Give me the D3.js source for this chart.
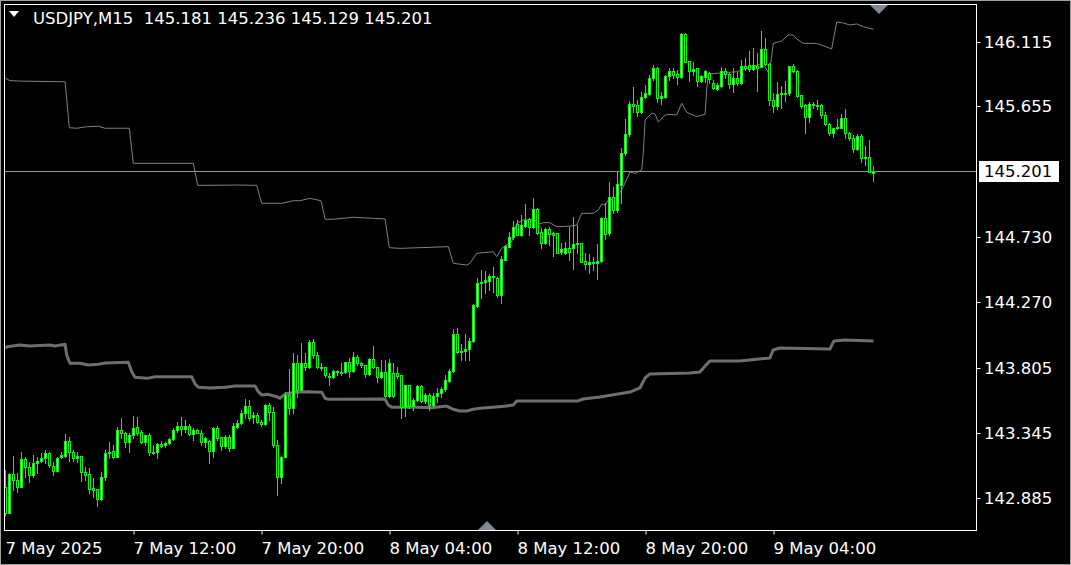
<!DOCTYPE html>
<html><head><meta charset="utf-8">
<script src="https://cdn.jsdelivr.net/npm/d3@7/dist/d3.min.js"></script>
<style>html,body{margin:0;padding:0;background:#000;overflow:hidden}svg{display:block}</style>
</head><body>
<svg id="chart" width="1071" height="565"></svg>
<script>
// ---------- DATA ----------
const symbolLabel = "USDJPY,M15";
const headerOHLC = [145.181, 145.236, 145.129, 145.201];
const currentPrice = 145.201;

const opens = [142.964,142.776,143.054,143.011,142.964,143.158,143.101,143.047,143.129,143.146,143.165,143.200,143.111,143.078,143.172,143.181,143.288,143.210,143.165,143.181,143.066,143.054,142.952,142.945,142.875,143.030,143.200,143.219,143.177,143.365,143.342,143.283,143.328,143.384,143.349,143.283,143.328,143.212,143.212,143.266,143.259,143.271,143.299,143.363,143.396,143.370,143.396,143.335,143.365,143.346,143.278,143.288,143.219,143.377,143.313,143.252,143.318,143.236,143.386,143.413,143.483,143.535,143.455,143.472,143.424,143.406,143.542,143.495,143.259,143.035,143.177,143.613,143.519,143.837,143.649,143.837,143.814,143.991,143.896,143.814,143.809,143.748,143.740,143.786,143.774,143.774,143.844,143.786,143.880,143.837,143.826,143.760,143.866,143.814,143.743,143.778,143.606,143.767,143.767,143.755,143.531,143.684,143.535,143.578,143.677,143.573,143.611,143.542,143.606,143.625,143.653,143.715,143.786,144.045,143.920,143.927,143.936,143.995,144.243,144.403,144.415,144.422,144.455,144.439,144.321,144.568,144.663,144.729,144.821,144.746,144.811,144.856,144.800,144.930,144.764,144.687,144.786,144.757,144.757,144.623,144.621,144.656,144.651,144.680,144.687,144.561,144.538,144.552,144.545,144.564,144.864,144.757,145.012,144.923,145.099,145.324,145.460,145.673,145.663,145.618,145.720,145.743,145.854,145.925,145.713,145.725,145.873,145.906,145.883,145.866,146.166,145.977,145.909,145.925,145.838,145.866,145.895,145.824,145.779,145.803,145.906,145.883,145.812,145.854,145.824,145.944,145.949,145.918,145.944,145.937,146.062,145.956,145.701,145.661,145.741,145.748,145.748,145.942,145.906,145.736,145.666,145.578,145.673,145.666,145.666,145.595,145.534,145.470,145.500,145.505,145.571,145.465,145.430,145.352,145.446,145.288,145.295,145.181];
const highs = [143.082,143.060,143.181,143.059,143.212,143.177,143.141,143.188,143.177,143.200,143.224,143.212,143.141,143.177,143.212,143.337,143.318,143.224,143.212,143.181,143.106,143.094,143.023,142.945,143.071,143.224,143.283,143.259,143.389,143.448,143.354,143.342,143.464,143.455,143.365,143.330,143.342,143.259,143.271,143.290,143.283,143.306,143.377,143.424,143.460,143.436,143.405,143.377,143.375,143.365,143.318,143.295,143.389,143.394,143.318,143.330,143.330,143.413,143.436,143.507,143.585,143.578,143.495,143.483,143.436,143.547,143.554,143.531,143.295,143.182,143.637,143.800,143.908,143.896,143.979,143.908,144.002,144.007,143.920,143.842,143.814,143.767,143.790,143.790,143.837,143.849,143.873,143.915,143.896,143.849,143.826,143.873,143.960,143.814,143.861,143.861,143.865,143.840,143.814,143.755,143.684,143.684,143.590,143.684,143.684,143.625,143.630,143.625,143.660,143.672,143.755,143.795,144.078,144.085,143.974,144.045,144.014,144.255,144.439,144.498,144.493,144.467,144.521,144.451,144.597,144.675,144.769,144.847,144.852,144.887,144.963,144.868,145.005,144.934,144.793,144.793,144.805,144.769,144.762,144.687,144.698,144.800,144.871,144.816,144.687,144.616,144.609,144.587,144.682,144.875,144.970,145.123,145.088,145.194,145.359,145.564,145.696,145.791,145.701,145.760,145.807,145.878,145.949,145.937,145.760,145.878,145.930,145.930,145.914,146.173,146.173,145.977,145.972,145.930,145.878,145.914,145.902,145.842,145.819,145.937,145.930,145.890,145.925,145.902,145.984,145.996,146.048,146.067,146.031,146.189,146.137,145.961,145.748,145.831,145.803,145.836,145.942,145.954,145.914,145.736,145.670,145.685,145.685,145.701,145.670,145.614,145.541,145.505,145.564,145.600,145.637,145.477,145.453,145.458,145.458,145.378,145.418,145.236];
const lows = [142.764,142.776,142.941,142.929,142.964,143.035,143.000,143.035,143.063,143.141,143.129,143.106,143.047,143.075,143.165,143.177,143.148,143.148,143.141,143.007,143.011,142.917,142.894,142.830,142.870,143.011,143.165,143.170,143.177,143.306,143.247,143.212,143.306,143.330,143.271,143.259,143.188,143.196,143.165,143.247,143.247,143.266,143.295,143.354,143.328,143.354,143.328,143.295,143.342,143.259,143.247,143.129,143.177,143.295,143.224,143.236,143.219,143.236,143.377,143.408,143.448,143.436,143.413,143.413,143.394,143.400,143.436,143.248,142.906,142.988,143.177,143.480,143.483,143.601,143.649,143.790,143.802,143.873,143.802,143.790,143.743,143.684,143.731,143.755,143.755,143.767,143.743,143.778,143.826,143.814,143.743,143.755,143.802,143.708,143.731,143.601,143.600,143.601,143.731,143.448,143.465,143.519,143.507,143.573,143.566,143.554,143.507,143.535,143.566,143.597,143.644,143.708,143.778,143.908,143.861,143.861,143.861,143.991,144.234,144.302,144.333,144.356,144.345,144.309,144.262,144.568,144.658,144.715,144.746,144.739,144.805,144.746,144.793,144.753,144.651,144.682,144.675,144.597,144.616,144.611,144.611,144.569,144.503,144.616,144.552,144.503,144.474,144.498,144.432,144.557,144.717,144.746,144.904,144.911,144.970,145.312,145.446,145.618,145.588,145.611,145.713,145.736,145.843,145.684,145.673,145.718,145.843,145.854,145.812,145.859,145.968,145.838,145.878,145.800,145.826,145.826,145.819,145.779,145.772,145.796,145.854,145.784,145.760,145.807,145.814,145.914,145.906,145.914,145.765,145.937,145.949,145.666,145.618,145.637,145.642,145.694,145.736,145.902,145.725,145.642,145.465,145.548,145.642,145.637,145.576,145.524,145.453,145.441,145.494,145.500,145.430,145.418,145.335,145.347,145.260,145.241,145.189,145.129];
const closes = [142.776,143.054,143.011,142.964,143.158,143.101,143.047,143.129,143.146,143.170,143.200,143.118,143.075,143.170,143.188,143.288,143.212,143.165,143.181,143.066,143.047,142.945,142.938,142.875,143.035,143.200,143.210,143.172,143.365,143.342,143.283,143.330,143.377,143.346,143.283,143.330,143.212,143.205,143.264,143.254,143.271,143.299,143.365,143.396,143.370,143.396,143.335,143.365,143.346,143.278,143.311,143.219,143.377,143.306,143.254,143.318,143.236,143.394,143.413,143.483,143.535,143.448,143.472,143.424,143.406,143.542,143.495,143.259,143.035,143.177,143.613,143.519,143.837,143.649,143.837,143.814,143.991,143.896,143.814,143.807,143.755,143.740,143.786,143.774,143.770,143.844,143.786,143.880,143.837,143.826,143.760,143.866,143.814,143.743,143.778,143.606,143.837,143.606,143.750,143.531,143.684,143.535,143.578,143.677,143.573,143.611,143.542,143.606,143.630,143.656,143.719,143.786,144.045,143.920,143.927,143.938,143.995,144.250,144.403,144.415,144.427,144.455,144.450,144.321,144.573,144.668,144.729,144.805,144.746,144.816,144.852,144.800,144.927,144.757,144.687,144.786,144.753,144.748,144.621,144.644,144.651,144.623,144.680,144.687,144.557,144.538,144.552,144.545,144.561,144.864,144.753,145.012,144.923,145.106,145.324,145.458,145.673,145.661,145.618,145.720,145.748,145.854,145.925,145.713,145.729,145.873,145.906,145.878,145.866,146.166,145.972,145.909,145.921,145.838,145.871,145.906,145.847,145.784,145.807,145.906,145.883,145.812,145.854,145.819,145.944,145.930,145.918,145.949,145.925,146.062,145.956,145.701,145.661,145.741,145.748,145.753,145.942,145.909,145.729,145.661,145.583,145.673,145.666,145.659,145.595,145.529,145.465,145.500,145.512,145.571,145.465,145.430,145.352,145.446,145.288,145.298,145.194,145.201];

// indicator lines: [bar index, price] vertices
const upperLine = [[0,145.855],[1.1,145.838],[3.6,145.835],[14.9,145.830],[15.95,145.505],[17.8,145.501],[20.3,145.512],[23.2,145.515],[24.9,145.501],[30.95,145.501],[31.95,145.253],[46.95,145.253],[48.05,145.097],[58.6,145.099],[62.8,145.097],[64.05,144.970],[69.05,144.970],[71.95,144.988],[73.6,144.988],[76.1,145.005],[78.9,144.988],[79.9,144.857],[81.9,144.857],[86.9,144.871],[94.9,144.859],[95.95,144.656],[98.6,144.651],[110.7,144.663],[111.95,144.545],[115.3,144.533],[116.1,144.545],[117.8,144.616],[121.95,144.627],[122.8,144.592],[124.05,144.651],[124.9,144.668],[126.55,144.698],[127.8,144.828],[129.45,144.852],[132.4,144.852],[133.2,144.821],[134.45,144.833],[136.1,144.833],[137.8,144.804],[141.55,144.809],[142.8,144.816],[144.05,144.899],[146.95,144.899],[148.2,144.923],[149.05,144.965],[149.9,144.958],[150.7,144.993],[152.8,145.005],[154.45,145.087],[156.1,145.191],[157.4,145.182],[159.05,145.206],[159.45,145.324],[159.9,145.559],[161.55,145.607],[162.4,145.602],[163.2,145.545],[164.45,145.583],[165.3,145.600],[167.8,145.595],[169.05,145.678],[170.3,145.614],[172.8,145.583],[174.9,145.600],[175.3,145.772],[175.7,145.885],[177.8,145.890],[182.8,145.901],[185.3,145.925],[188.6,145.954],[189.9,145.937],[190.95,145.883],[191.95,146.102],[194.05,146.119],[195.7,146.161],[196.95,146.161],[197.8,146.133],[199.45,146.102],[202.8,146.102],[204.45,146.085],[206.55,146.062],[207.8,146.253],[209.45,146.246],[211.1,146.232],[212.8,146.239],[214.45,146.220],[217,146.201]];
const lowerLine = [[0,143.944],[0.4,143.955],[3.6,143.967],[6.1,143.960],[11.1,143.967],[12.4,143.960],[14.9,143.972],[15.3,143.896],[16.1,143.838],[18.6,143.838],[20.7,143.826],[23.2,143.831],[24.9,143.840],[30.7,143.845],[31.55,143.778],[32.4,143.739],[35.3,143.731],[37.4,143.743],[46.55,143.743],[47.4,143.691],[48.2,143.668],[51.1,143.663],[54.9,143.668],[57.4,143.677],[62.4,143.677],[63.2,143.637],[64.05,143.613],[65.7,143.618],[67.8,143.601],[68.6,143.590],[69.9,143.620],[72.4,143.632],[75.7,143.637],[79.05,143.632],[79.9,143.590],[80.7,143.583],[84.05,143.583],[94.05,143.585],[94.9,143.582],[95.7,143.543],[96.55,143.526],[102.4,143.526],[106.55,143.523],[110.3,143.535],[111.95,143.512],[113.6,143.500],[115.3,143.500],[116.95,143.512],[118.6,143.519],[121.95,143.526],[125.3,143.535],[126.95,143.543],[127.8,143.571],[136.1,143.571],[143.1,143.571],[144.4,143.585],[148.6,143.599],[151.6,143.613],[156.1,143.634],[158.6,143.663],[159.9,143.734],[161.1,143.762],[171.1,143.769],[173.6,143.776],[174.9,143.818],[176.1,143.854],[183.6,143.854],[191.1,143.875],[191.9,143.932],[193.6,143.946],[206.1,143.939],[207.1,143.995],[209.9,144.002],[217,143.995]];

const priceTicks = [146.115, 145.655, 144.730, 144.270, 143.805, 143.345, 142.885];
const timeTickBars = [0, 32, 64, 96, 128, 160, 192];
const timeTickLabels = ["7 May 2025", "7 May 12:00", "7 May 20:00", "8 May 04:00", "8 May 12:00", "8 May 20:00", "9 May 04:00"];

// ---------- LAYOUT ----------
const W = 1071, H = 565;
const frame = {x0: 4.5, y0: 4.5, x1: 976.5, y1: 530.5};
const FONT = "'DejaVu Sans', Verdana, sans-serif";
const LIME = "#00ff00";

const svg = d3.select("#chart");
svg.append("rect").attr("width", W).attr("height", H).attr("fill", "#000");

const x = d3.scaleLinear().domain([0, 217]).range([5.5, 873.5]);
const y = d3.scaleLinear().domain([142.885, 146.115]).range([497.9, 41.5]);

// outer window border
svg.append("rect").attr("x", 0.5).attr("y", 0.5).attr("width", W - 1).attr("height", H - 1)
  .attr("fill", "none").attr("stroke", "#a0a0a0");

// clip
svg.append("defs").append("clipPath").attr("id", "plotclip")
  .append("rect").attr("x", frame.x0 + 0.5).attr("y", frame.y0 + 0.5)
  .attr("width", frame.x1 - frame.x0 - 1).attr("height", frame.y1 - frame.y0 - 1);

const plot = svg.append("g").attr("clip-path", "url(#plotclip)");

// current price line
plot.append("line").attr("x1", frame.x0).attr("x2", frame.x1)
  .attr("y1", Math.round(y(currentPrice)) + 0.5).attr("y2", Math.round(y(currentPrice)) + 0.5)
  .attr("stroke", "#8a93a0").attr("stroke-width", 1);

// indicator lines
const lineGen = d3.line().x(d => x(d[0])).y(d => y(d[1]));
plot.append("path").datum(lowerLine).attr("d", lineGen)
  .attr("fill", "none").attr("stroke", "#6e6e6e").attr("stroke-width", 3).attr("stroke-linejoin", "round");
plot.append("path").datum(upperLine).attr("d", lineGen)
  .attr("fill", "none").attr("stroke", "#808080").attr("stroke-width", 1);

// candles
const bars = d3.range(opens.length).map(i => ({i, o: opens[i], h: highs[i], l: lows[i], c: closes[i]}));
const cg = plot.append("g");
bars.forEach(b => {
  const cx = x(b.i);
  const g = cg.append("g");
  const yh = Math.round(y(b.h)), yl = Math.round(y(b.l));
  g.append("line").attr("x1", cx).attr("x2", cx).attr("y1", yh).attr("y2", yl + 1)
    .attr("stroke", LIME).attr("stroke-width", 1);
  const top = Math.round(y(Math.max(b.o, b.c)));
  let bot = Math.round(y(Math.min(b.o, b.c)));
  if (bot < top + 1) bot = top + 1;
  g.append("rect").attr("x", cx - 1.5).attr("y", top).attr("width", 3).attr("height", bot - top + 1)
    .attr("fill", LIME);
  if (bot - top >= 2) {
    g.append("rect").attr("x", cx - 0.5).attr("y", top + 1).attr("width", 1).attr("height", bot - top - 1)
      .attr("fill", b.c >= b.o ? "#ffffff" : "#000000");
  }
});

// frame
svg.append("rect").attr("x", frame.x0).attr("y", frame.y0)
  .attr("width", frame.x1 - frame.x0).attr("height", frame.y1 - frame.y0)
  .attr("fill", "none").attr("stroke", "#ffffff").attr("stroke-width", 1);

// price axis
const yAxis = d3.axisRight(y).tickValues(priceTicks).tickFormat(d3.format(".3f")).tickSize(4).tickPadding(4);
const ya = svg.append("g").attr("transform", `translate(${frame.x1},0)`).call(yAxis);
ya.select(".domain").remove();
ya.selectAll(".tick line").attr("stroke", "#fff");
ya.selectAll(".tick").attr("transform", d => `translate(0,${Math.round(y(d)) + 0.5})`);
ya.selectAll(".tick text").attr("fill", "#fff").attr("font-family", FONT).attr("font-size", "16.5px")
  .attr("x", 7.5).attr("dy", "0.36em");

// current price box
const cpY = Math.round(y(currentPrice)) + 0.5;
svg.append("rect").attr("x", 979).attr("y", cpY - 10.5).attr("width", 80).attr("height", 21).attr("fill", "#fff");
svg.append("text").attr("x", 984).attr("y", cpY).attr("dy", "0.36em").attr("fill", "#000")
  .attr("font-family", FONT).attr("font-size", "16.5px").text(d3.format(".3f")(currentPrice));

// time axis
const xAxis = d3.axisBottom(x).tickValues(timeTickBars).tickFormat((d, k) => timeTickLabels[k]).tickSize(4).tickPadding(8);
const xa = svg.append("g").attr("transform", `translate(0,${frame.y1})`).call(xAxis);
xa.select(".domain").remove();
xa.selectAll(".tick line").attr("stroke", "#fff");
xa.selectAll(".tick text").attr("fill", "#fff").attr("font-family", FONT).attr("font-size", "16.5px")
  .attr("text-anchor", "start").attr("x", -0.5);
xa.selectAll(".tick").filter((d, k) => k === 0).select("line").remove();

// header
svg.append("path").attr("d", "M9,11 L19,11 L14,17 Z").attr("fill", "#fff");
svg.append("text").attr("x", 33).attr("y", 24).attr("fill", "#fff").attr("font-family", FONT).attr("font-size", "16.5px")
  .attr("xml:space", "preserve")
  .text(symbolLabel + "  " + headerOHLC.map(d3.format(".3f")).join(" "));

// shift markers
svg.append("path").attr("d", "M870,5 L888,5 L879,14 Z").attr("fill", "#7f8a96");
svg.append("path").attr("d", "M478,530 L496,530 L487,521 Z").attr("fill", "#7f8a96");
</script>
</body></html>
